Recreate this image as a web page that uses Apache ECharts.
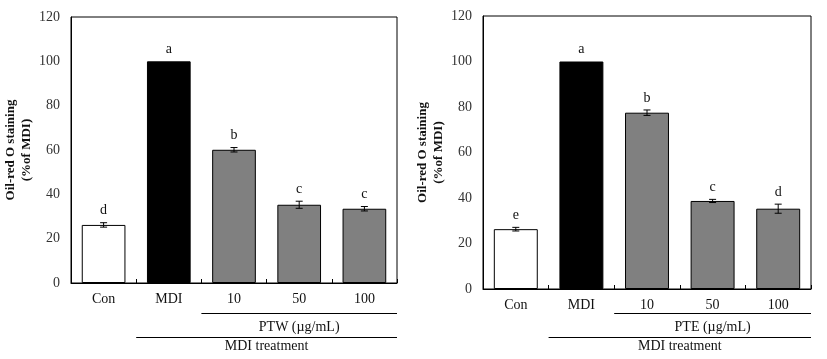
<!DOCTYPE html>
<html><head><meta charset="utf-8">
<script src="https://cdn.jsdelivr.net/npm/echarts@6/dist/echarts.min.js"></script>
<style>html,body{margin:0;padding:0;background:#fff}#c{width:827px;height:359px}</style>
</head><body><div id="c"></div>
<script>
const categories = ['Con', 'MDI', '10', '50', '100'];
const leftValues = [26.2, 100, 60.1, 35.3, 33.5];
const leftErrors = [1.0, 0, 1.0, 1.6, 1.0];
const leftLetters = ['d', 'a', 'b', 'c', 'c'];
const rightValues = [26.3, 100, 77.5, 38.7, 35.3];
const rightErrors = [0.8, 0, 1.2, 0.7, 2.0];
const rightLetters = ['e', 'a', 'b', 'c', 'd'];
const yTicks = [0, 20, 40, 60, 80, 100, 120];
const leftGroup = 'PTW (µg/mL)';
const rightGroup = 'PTE (µg/mL)';
const treatment = 'MDI treatment';

const FONT = '"Liberation Serif", "Times New Roman", serif';
const barColors = ['#ffffff', '#000000', '#808080', '#808080', '#808080'];

function barData(vals) {
  return vals.map((v, i) => ({ value: v, itemStyle: { color: barColors[i], borderColor: '#000', borderWidth: 1 } }));
}
function errSeries(idx, vals, errs, letters) {
  return {
    type: 'custom', xAxisIndex: idx, yAxisIndex: idx, z: 5,
    data: vals.map((v, i) => [i, v, errs[i], letters[i]]),
    renderItem: function (params, api) {
      const x = api.value(0), v = api.value(1), e = api.value(2);
      const top = api.coord([x, v + e]);
      const bot = api.coord([x, v - e]);
      const cw = 3.5;
      const children = [];
      if (e > 0) {
        children.push({ type: 'line', shape: { x1: top[0], y1: top[1], x2: bot[0], y2: bot[1] }, style: { stroke: '#000', lineWidth: 1 } });
        children.push({ type: 'line', shape: { x1: top[0] - cw, y1: top[1], x2: top[0] + cw, y2: top[1] }, style: { stroke: '#000', lineWidth: 1 } });
        children.push({ type: 'line', shape: { x1: bot[0] - cw, y1: bot[1], x2: bot[0] + cw, y2: bot[1] }, style: { stroke: '#000', lineWidth: 1 } });
      }
      children.push({ type: 'text', style: { x: top[0], y: top[1] - 12, text: letters[params.dataIndex], fill: '#111', font: '14px ' + FONT, textAlign: 'center', textVerticalAlign: 'middle' } });
      return { type: 'group', children: children };
    }
  };
}
function xAxis(idx) {
  return {
    type: 'category', gridIndex: idx, data: categories,
    axisLine: { lineStyle: { color: '#000', width: 1 } },
    axisTick: { show: true, inside: true, length: 4, lineStyle: { color: '#000' } },
    axisLabel: { fontFamily: FONT, fontSize: 14, color: '#111', margin: 9 }
  };
}
function yAxis(idx) {
  return {
    type: 'value', gridIndex: idx, min: yTicks[0], max: yTicks[yTicks.length - 1], interval: 20,
    splitLine: { show: false },
    axisLine: { show: true, lineStyle: { color: '#000' } },
    axisTick: { show: false },
    axisLabel: { fontFamily: FONT, fontSize: 14, color: '#333', margin: 11 },
    name: 'Oil-red O staining\n(%of MDI)', nameLocation: 'middle', nameRotate: 90, nameGap: 32,
    nameTextStyle: { fontFamily: FONT, fontSize: 13, fontWeight: 'bold', color: '#111', lineHeight: 16 }
  };
}
const chart = echarts.init(document.getElementById('c'));
chart.setOption({
  animation: false,
  backgroundColor: '#fff',
  grid: [
    { left: 71, right: 430, top: 17, bottom: 76, show: true, borderColor: '#000', borderWidth: 1 },
    { left: 483, right: 16, top: 16, bottom: 70, show: true, borderColor: '#000', borderWidth: 1 }
  ],
  xAxis: [xAxis(0), xAxis(1)],
  yAxis: [yAxis(0), yAxis(1)],
  series: [
    { type: 'bar', xAxisIndex: 0, yAxisIndex: 0, data: barData(leftValues), barWidth: '67%' },
    errSeries(0, leftValues, leftErrors, leftLetters),
    { type: 'bar', xAxisIndex: 1, yAxisIndex: 1, data: barData(rightValues), barWidth: '67%' },
    errSeries(1, rightValues, rightErrors, rightLetters)
  ]
});
// group annotations below axes, positioned from the axis scale
function bracket(gridIdx, group, y1, yText1, y2, yText2) {
  const bw = chart.convertToPixel({ xAxisIndex: gridIdx }, 1);
  const b10 = chart.convertToPixel({ xAxisIndex: gridIdx }, 2);
  const b100 = chart.convertToPixel({ xAxisIndex: gridIdx }, 4);
  const half = (b10 - bw) / 2;
  const xRight = b100 + half;
  const start1 = b10 - half;
  const start2 = bw - half;
  return [
    { type: 'line', shape: { x1: start1, y1: y1, x2: xRight, y2: y1 }, style: { stroke: '#000', lineWidth: 1 } },
    { type: 'text', x: (start1 + xRight) / 2, y: yText1, style: { text: group, font: '14px ' + FONT, fill: '#111', textAlign: 'center', textVerticalAlign: 'middle' } },
    { type: 'line', shape: { x1: start2, y1: y2, x2: xRight, y2: y2 }, style: { stroke: '#000', lineWidth: 1 } },
    { type: 'text', x: (start2 + xRight) / 2, y: yText2, style: { text: treatment, font: '14px ' + FONT, fill: '#111', textAlign: 'center', textVerticalAlign: 'middle' } }
  ];
}
chart.setOption({
  graphic: bracket(0, leftGroup, 313.5, 327, 337.5, 346).concat(bracket(1, rightGroup, 313.5, 327, 337.5, 346))
});
</script></body></html>
